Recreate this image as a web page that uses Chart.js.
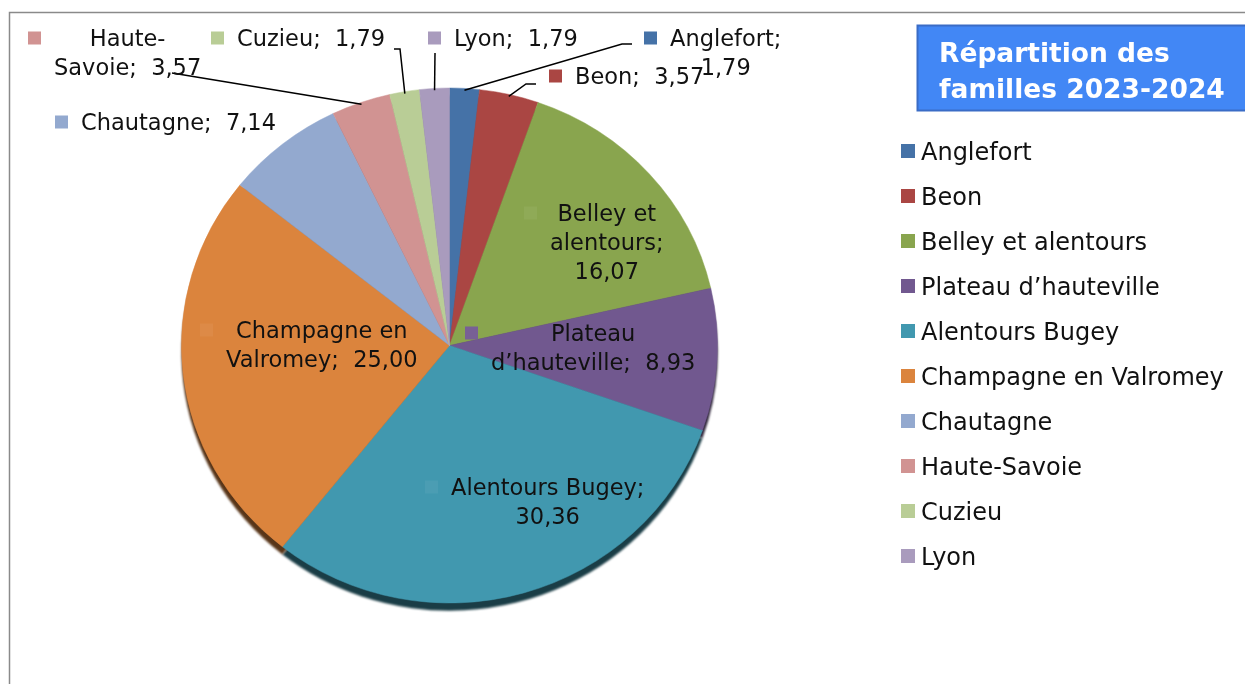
<!DOCTYPE html>
<html>
<head>
<meta charset="utf-8">
<script src="https://cdn.jsdelivr.net/npm/chart.js@4.4.1/dist/chart.umd.min.js"></script>
<style>
  html, body { margin: 0; padding: 0; background: #ffffff; }
  canvas { display: block; }
</style>
</head>
<body>
<canvas id="pieChart" width="1245" height="684"></canvas>
<script>
// Data
const labels = [
  "Anglefort",
  "Beon",
  "Belley et alentours",
  "Plateau d’hauteville",
  "Alentours Bugey",
  "Champagne en Valromey",
  "Chautagne",
  "Haute-Savoie",
  "Cuzieu",
  "Lyon",
];
const values = [1.79, 3.57, 16.07, 8.93, 30.36, 25.0, 7.14, 3.57, 1.79, 1.79];
const colors = [
  "#4572A7", "#AA4643", "#89A54E", "#71588F", "#4198AF",
  "#DB843D", "#93A9CF", "#D19392", "#B9CD96", "#A99BBD",
];
const titleLines = ["Répartition des", "familles 2023-2024"];

const FONT = "'DejaVu Sans', sans-serif";
const squash = 257.5 / 268; // pie is drawn slightly flattened, like the original

// where each data label sits: left of its colour key, centre of first line,
// wrap width, and leader line points (label side first)
const labelSpots = [
  { x: 644, y: 38, w: 130, path: [[632, 44], [622, 44]] },
  { x: 549, y: 76, w: 220, path: [[536, 84], [526, 84]] },
  { x: 524, y: 213, w: 125, inside: true },
  { x: 465, y: 333, w: 220, inside: true },
  { x: 425, y: 487, w: 210, inside: true },
  { x: 200, y: 330, w: 205, inside: true },
  { x: 55, y: 122, w: 260 },
  { x: 28, y: 38, w: 155, path: [[172, 73]] },
  { x: 211, y: 38, w: 200, path: [[394, 49], [400, 49]] },
  { x: 428, y: 38, w: 200, path: [[435, 53]] },
];

function fmt(v) {
  return v.toFixed(2).replace(".", ",");
}

function shade(hex, k) {
  const n = parseInt(hex.slice(1), 16);
  const f = function (c) {
    return Math.min(255, Math.round(k > 1 ? c + (255 - c) * (k - 1) : c * k));
  };
  return "rgb(" + f((n >> 16) & 255) + "," + f((n >> 8) & 255) + "," + f(n & 255) + ")";
}

// greedy wrap, breaking after spaces and hyphens
function wrap(ctx, text, maxW) {
  const tokens = text.match(/\s+|[^\s-]+-?|-/g);
  const lines = [];
  let line = "";
  let space = "";
  tokens.forEach(function (t) {
    if (/^\s+$/.test(t)) {
      space = t;
      return;
    }
    const cand = line + space + t;
    if (line !== "" && ctx.measureText(cand).width > maxW) {
      lines.push(line);
      line = t;
    } else {
      line = cand;
    }
    space = "";
  });
  if (line) lines.push(line);
  return lines;
}

const framePlugin = {
  id: "frame",
  beforeDraw(chart) {
    const ctx = chart.ctx;
    ctx.save();
    ctx.fillStyle = "#ffffff";
    ctx.fillRect(0, 0, chart.width, chart.height);
    ctx.strokeStyle = "#8a8a8a";
    ctx.lineWidth = 1.5;
    ctx.strokeRect(9.5, 12.5, 1400, 800);
    ctx.restore();
  },
};

const ellipsePlugin = {
  id: "ellipse",
  beforeDatasetsDraw(chart) {
    const ctx = chart.ctx;
    const arcs = chart.getDatasetMeta(0).data;
    const c = arcs[0];
    ctx.save();
    ctx.translate(c.x, c.y);
    ctx.scale(1, squash);
    ctx.translate(-c.x, -c.y);
    // dark rim under the pie
    ctx.save();
    ctx.filter = "blur(1px)";
    arcs.forEach(function (arc, i) {
      ctx.beginPath();
      ctx.moveTo(arc.x, arc.y + 8);
      ctx.arc(arc.x, arc.y + 8, arc.outerRadius, arc.startAngle, arc.endAngle);
      ctx.closePath();
      ctx.fillStyle = shade(colors[i], 0.4);
      ctx.fill();
    });
    ctx.restore();
  },
  afterDatasetsDraw(chart) {
    chart.ctx.restore();
  },
};

const labelPlugin = {
  id: "sliceLabels",
  afterDraw(chart) {
    const ctx = chart.ctx;
    const arcs = chart.getDatasetMeta(0).data;
    ctx.save();
    ctx.font = "22.5px " + FONT;
    arcs.forEach(function (arc, i) {
      const spot = labelSpots[i];
      const text = labels[i] + ";  " + fmt(values[i]);
      const lines = wrap(ctx, text, spot.w);
      const textW = Math.max.apply(null, lines.map(function (l) { return ctx.measureText(l).width; }));
      const tx = spot.x + 26 + textW / 2;

      // leader line
      if (spot.path) {
        const a = (arc.startAngle + arc.endAngle) / 2;
        const ex = arc.x + Math.cos(a) * (arc.outerRadius - 2);
        const ey = arc.y + Math.sin(a) * (arc.outerRadius - 2) * squash;
        ctx.beginPath();
        ctx.moveTo(spot.path[0][0], spot.path[0][1]);
        spot.path.slice(1).forEach(function (p) { ctx.lineTo(p[0], p[1]); });
        ctx.lineTo(ex, ey);
        ctx.strokeStyle = "#000000";
        ctx.lineWidth = 1.5;
        ctx.stroke();
      }

      // colour key
      ctx.fillStyle = spot.inside ? shade(colors[i], 1.05) : colors[i];
      ctx.fillRect(spot.x, spot.y - 6.5, 13, 13);

      // text
      ctx.fillStyle = "#111111";
      ctx.textAlign = "center";
      ctx.textBaseline = "alphabetic";
      lines.forEach(function (l, k) {
        ctx.fillText(l, tx, spot.y + 8 + k * 29);
      });
    });
    ctx.restore();
  },
};

const sideLegendPlugin = {
  id: "sideLegend",
  afterDraw(chart) {
    const ctx = chart.ctx;
    ctx.save();
    // title box
    ctx.fillStyle = "#4287F5";
    ctx.fillRect(917.5, 25.5, 340, 85);
    ctx.strokeStyle = "#3A6CC6";
    ctx.lineWidth = 2;
    ctx.strokeRect(917.5, 25.5, 340, 85);
    ctx.fillStyle = "#ffffff";
    ctx.font = "bold 26.5px " + FONT;
    ctx.textBaseline = "alphabetic";
    titleLines.forEach(function (t, k) {
      ctx.fillText(t, 939, 62 + k * 36);
    });
    // legend
    ctx.font = "24px " + FONT;
    labels.forEach(function (name, i) {
      const cy = 151 + i * 45;
      ctx.fillStyle = colors[i];
      ctx.fillRect(901, cy - 7, 14, 14);
      ctx.fillStyle = "#111111";
      ctx.fillText(name, 921, cy + 8.5);
    });
    ctx.restore();
  },
};

const ctx = document.getElementById("pieChart").getContext("2d");
const pieChart = new Chart(ctx, {
  type: "pie",
  data: {
    labels: labels,
    datasets: [
      {
        data: values,
        backgroundColor: colors,
        borderColor: colors,
        borderWidth: 0.5,
        radius: 268,
        clip: false,
      },
    ],
  },
  options: {
    responsive: false,
    animation: false,
    events: [],
    layout: { padding: { left: 100, right: 446, top: 20, bottom: 13 } },
    plugins: {
      legend: { display: false },
      tooltip: { enabled: false },
    },
  },
  plugins: [framePlugin, ellipsePlugin, labelPlugin, sideLegendPlugin],
});
</script>
</body>
</html>
